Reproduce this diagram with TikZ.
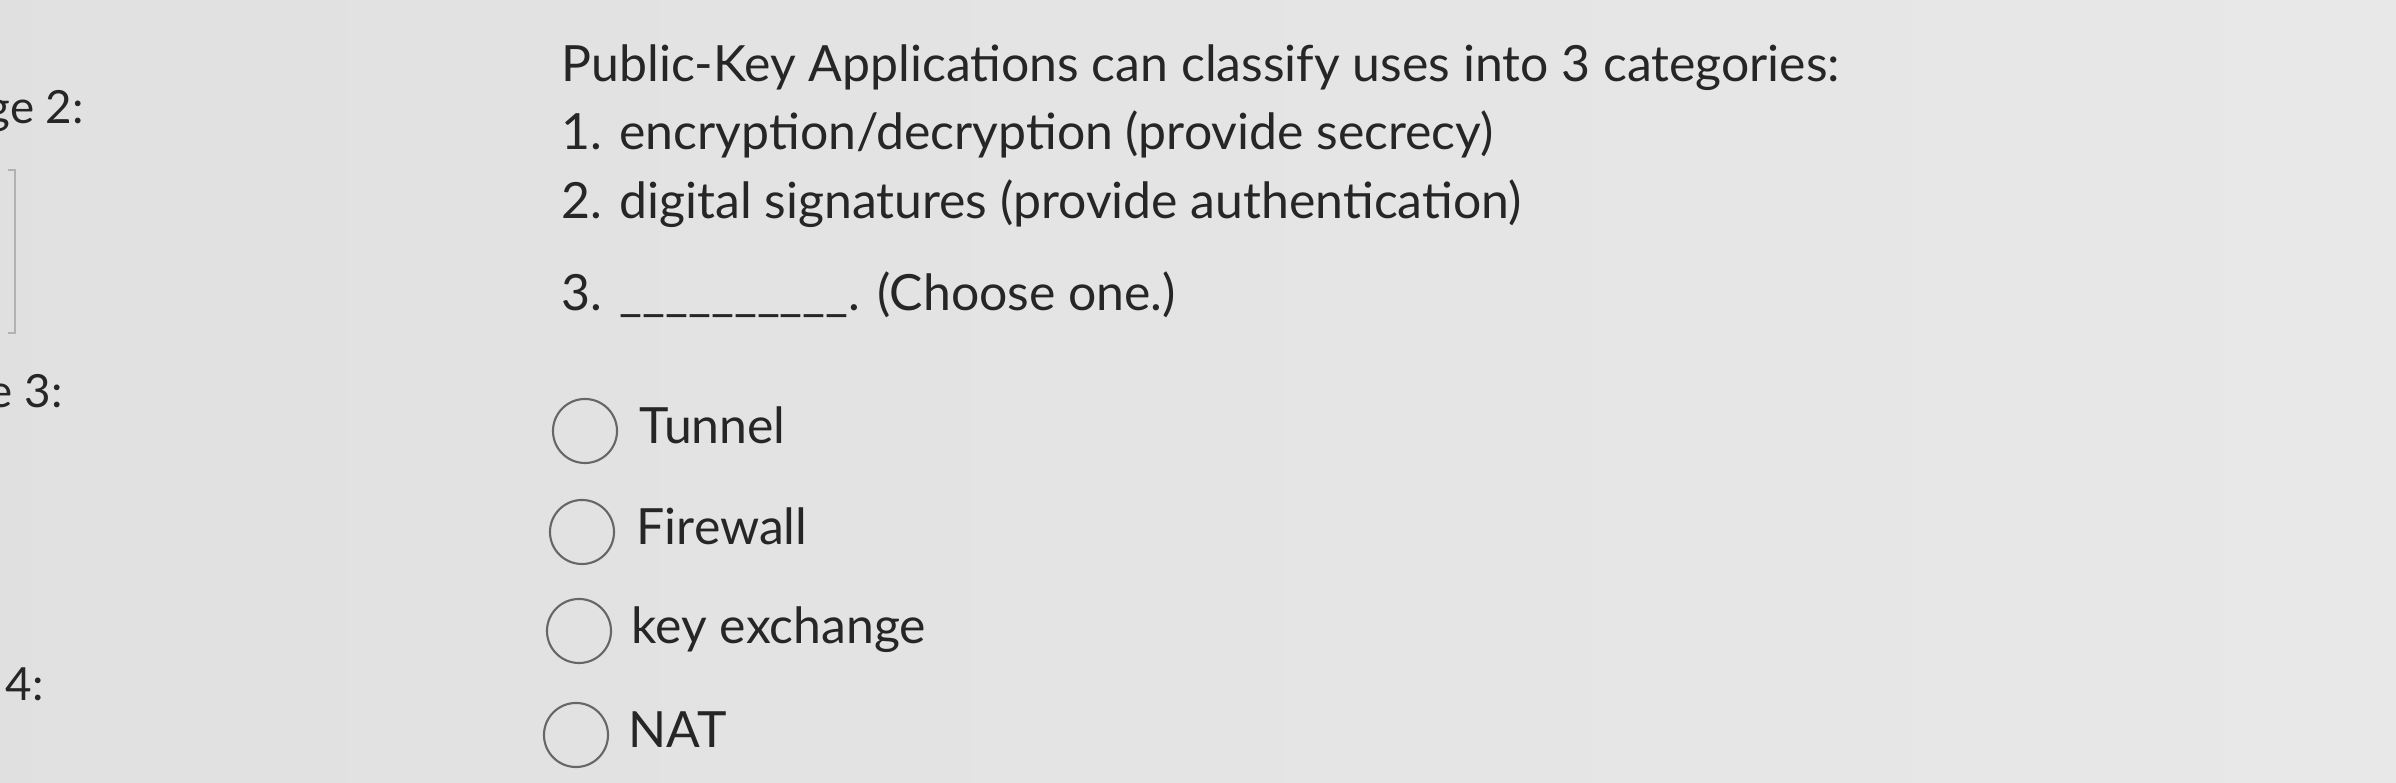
\documentclass[tikz,border=0pt]{standalone}
\usepackage{fontspec}
\setmainfont{Lato}
\begin{document}
\begin{tikzpicture}[x=0.01cm,y=-0.01cm,
  txt/.style={anchor=base west,inner sep=0pt,font=\fontsize{14.2pt}{17pt}\selectfont,text=black!85},
  lbl/.style={anchor=base west,inner sep=0pt,font=\fontsize{13pt}{15pt}\selectfont,text=black!85},
  radio/.style={circle,draw=black!60,line width=0.6pt,minimum size=0.64cm,inner sep=0pt}]
\fill[left color=black!12,right color=black!9] (0,0) rectangle (2396,783);
\useasboundingbox (0,0) rectangle (2396,783);
\draw[black!30,line width=0.6pt] (8,170) -- (15,170) -- (15,333) -- (8,333);
\node[lbl] (l2) at (-14,124) {ge 2:};
\node[lbl] (l3) at (-12,408) {e 3:};
\node[lbl] (l4) at (5,701) {4:};
\node[txt] (q0) at (561,82) {Public-Key Applications can classify uses into 3 categories:};
\node[txt] (q1) at (561,150) {1. encryption/decryption (provide secrecy)};
\node[txt] (q2) at (561,219) {2. digital signatures (provide authentication)};
\node[txt] (q3) at (561,311) {3. \_\_\_\_\_\_\_\_\_\_. (Choose one.)};
\node[radio] (c1) at (585,431) {};
\node[txt] (t1) at (639,444) {Tunnel};
\node[radio] (c2) at (582,532) {};
\node[txt] (t2) at (636,545) {Firewall};
\node[radio] (c3) at (579,631) {};
\node[txt] (t3) at (631,644) {key exchange};
\node[radio] (c4) at (576,735) {};
\node[txt] (t4) at (628,748) {NAT};
\end{tikzpicture}
\end{document}
